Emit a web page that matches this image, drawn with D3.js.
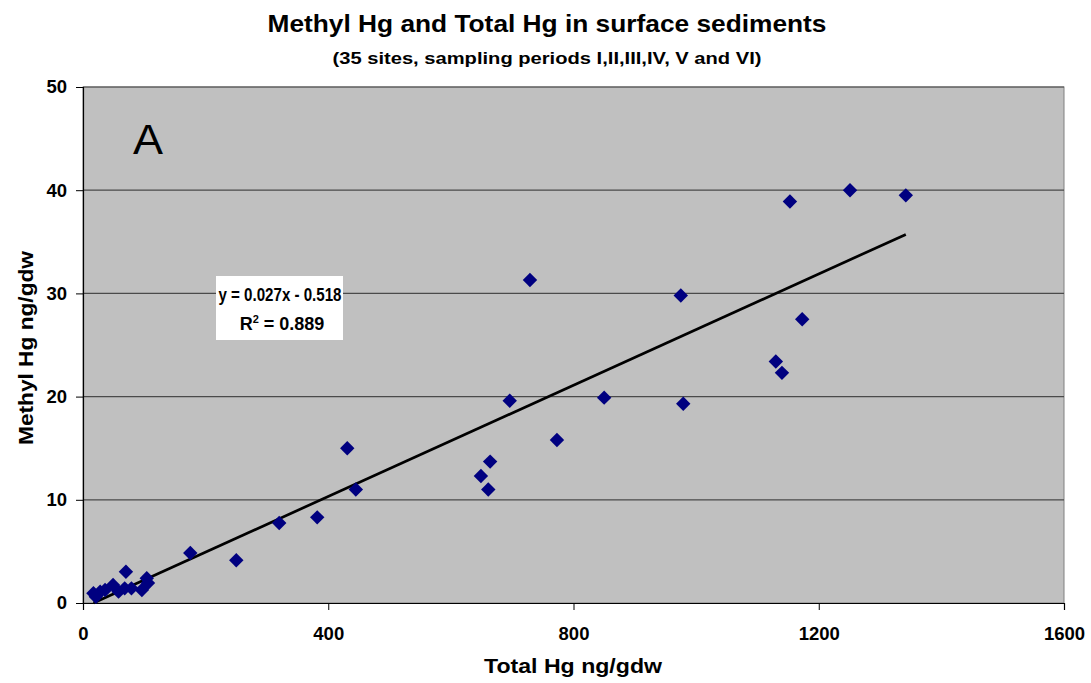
<!DOCTYPE html>
<html>
<head>
<meta charset="utf-8">
<script src="https://cdn.jsdelivr.net/npm/d3@7"></script>
<style>
  body { margin: 0; background: #fff; }
  text { font-family: Arial, "Liberation Sans", sans-serif; }
</style>
</head>
<body>
<svg id="chart" width="1091" height="683"></svg>
<script>
// Total Hg (x) and Methyl Hg (y)
const totalHg = [17, 21, 28, 36, 49, 58, 70, 68, 79, 96, 104, 106,
  175, 250, 320, 382, 431, 445, 649, 661, 664, 696, 729, 773, 850,
  975, 979, 1130, 1140, 1153, 1173, 1251, 1342];
const methylHg = [0.94, 0.61, 1.1, 1.26, 1.74, 1.1, 3.03, 1.42, 1.42, 1.26, 2.4, 1.94,
  4.85, 4.15, 7.75, 8.3, 15.0, 11.0, 12.3, 11.0, 13.7, 19.6, 31.3, 15.8, 19.9,
  29.8, 19.3, 23.4, 22.3, 38.9, 27.5, 40.0, 39.5];
const xTicks = [0, 400, 800, 1200, 1600];
const yTicks = [0, 10, 20, 30, 40, 50];
const trend = { slope: 0.027, intercept: -0.518, r2: 0.889 };

const margin = { left: 83, top: 87, right: 1091 - 1064, bottom: 683 - 603 };
const width = 1091 - margin.left - margin.right;
const height = 683 - margin.top - margin.bottom;

const svg = d3.select('#chart');

const x = d3.scaleLinear().domain([0, 1600]).range([0, width]);
const y = d3.scaleLinear().domain([0, 50]).range([height, 0]);

const g = svg.append('g').attr('transform', `translate(${margin.left},${margin.top})`);

// plot background
g.append('rect')
  .attr('width', width).attr('height', height)
  .attr('fill', '#c0c0c0')
  .attr('stroke', '#808080').attr('stroke-width', 1);

// gridlines
g.append('g')
  .selectAll('line')
  .data(yTicks.filter(d => d > 0))
  .enter().append('line')
  .attr('x1', 0).attr('x2', width)
  .attr('y1', d => y(d)).attr('y2', d => y(d))
  .attr('stroke', '#4a4a4a').attr('stroke-width', 1.2);

// axes
const xAxis = g.append('g')
  .attr('transform', `translate(0,${height})`)
  .call(d3.axisBottom(x).tickValues(xTicks).tickFormat(d3.format('d')).tickSize(7).tickPadding(17));
const yAxis = g.append('g')
  .call(d3.axisLeft(y).tickValues(yTicks).tickFormat(d3.format('d')).tickSize(7).tickPadding(9));

[xAxis, yAxis].forEach(a => {
  a.select('.domain').attr('stroke', '#000').attr('stroke-width', 1.2);
  a.selectAll('.tick line').attr('stroke', '#000');
  a.selectAll('.tick text')
    .attr('fill', '#000')
    .style('font-size', '18.5px')
    .style('font-weight', 'bold');
});

// trend line across data range
const xMin = d3.min(totalHg), xMax = d3.max(totalHg);
g.append('line')
  .attr('x1', x(xMin)).attr('y1', y(Math.max(0, trend.slope * xMin + trend.intercept)))
  .attr('x2', x(xMax)).attr('y2', y(trend.slope * xMax + trend.intercept))
  .attr('stroke', '#000').attr('stroke-width', 2.7);

// points
const diamond = d3.symbol().type(d3.symbolSquare).size(104);
g.append('g')
  .selectAll('path')
  .data(totalHg.map((v, i) => [v, methylHg[i]]))
  .enter().append('path')
  .attr('d', diamond)
  .attr('transform', d => `translate(${x(d[0])},${y(d[1])}) rotate(45)`)
  .attr('fill', '#000080');

// equation box
const box = g.append('g').attr('transform', `translate(${216 - margin.left},${276 - margin.top})`);
box.append('rect').attr('width', 127).attr('height', 64).attr('fill', '#fff');
box.append('text')
  .attr('x', 64).attr('y', 25)
  .attr('text-anchor', 'middle')
  .attr('textLength', 123).attr('lengthAdjust', 'spacingAndGlyphs')
  .style('font-size', '18px').style('font-weight', 'bold')
  .text(`y = ${trend.slope}x - ${Math.abs(trend.intercept)}`);
const r2 = box.append('text')
  .attr('x', 66).attr('y', 54)
  .attr('text-anchor', 'middle')
  .style('font-size', '18px').style('font-weight', 'bold');
r2.append('tspan').text('R');
r2.append('tspan').attr('dy', -7).style('font-size', '11px').text('2');
r2.append('tspan').attr('dy', 7).text(` = ${trend.r2}`);

// panel letter
svg.append('text')
  .attr('x', 133).attr('y', 154)
  .attr('textLength', 30).attr('lengthAdjust', 'spacingAndGlyphs')
  .style('font-size', '43px')
  .text('A');

// titles
svg.append('text')
  .attr('x', 547).attr('y', 32)
  .attr('text-anchor', 'middle')
  .attr('textLength', 559).attr('lengthAdjust', 'spacingAndGlyphs')
  .style('font-size', '24px').style('font-weight', 'bold')
  .text('Methyl Hg and Total Hg in surface sediments');
svg.append('text')
  .attr('x', 547).attr('y', 64)
  .attr('text-anchor', 'middle')
  .attr('textLength', 429).attr('lengthAdjust', 'spacingAndGlyphs')
  .style('font-size', '17px').style('font-weight', 'bold')
  .text('(35 sites, sampling periods I,II,III,IV, V and VI)');

svg.append('text')
  .attr('x', 573).attr('y', 673)
  .attr('text-anchor', 'middle')
  .attr('textLength', 178).attr('lengthAdjust', 'spacingAndGlyphs')
  .style('font-size', '21px').style('font-weight', 'bold')
  .text('Total Hg ng/gdw');
svg.append('text')
  .attr('transform', `translate(33,348) rotate(-90)`)
  .attr('text-anchor', 'middle')
  .attr('textLength', 194).attr('lengthAdjust', 'spacingAndGlyphs')
  .style('font-size', '21px').style('font-weight', 'bold')
  .text('Methyl Hg ng/gdw');
</script>
</body>
</html>
